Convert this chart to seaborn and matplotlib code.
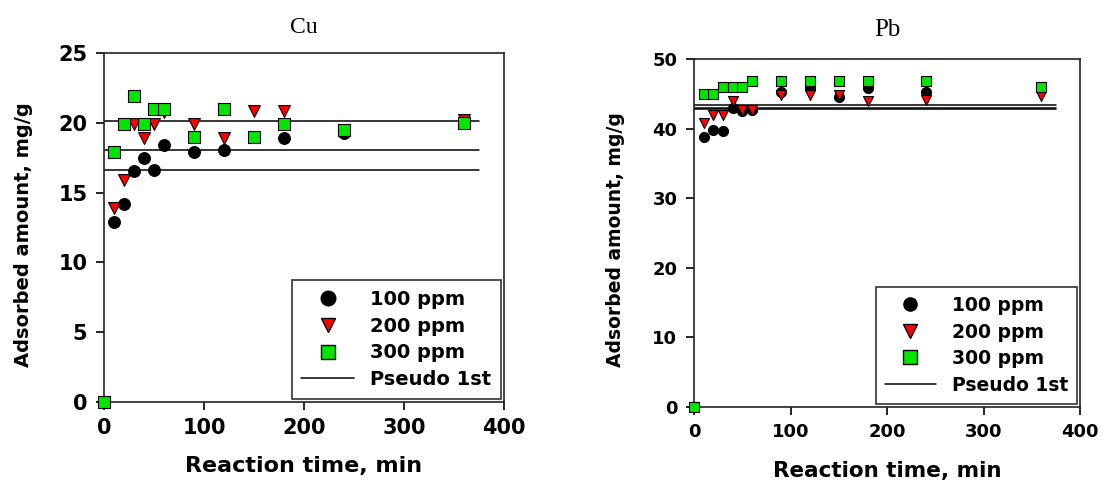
import numpy as np
import matplotlib
matplotlib.use("Agg")
import matplotlib.pyplot as plt
from matplotlib.lines import Line2D
import seaborn as sns

# reaction time (min)
time_min = [0, 10, 20, 30, 40, 50, 60, 90, 120, 150, 180, 240, 360]

# Cu adsorbed amount, mg/g
cu_100 = [0, 12.9, 14.2, 16.55, 17.5, 16.65, 18.4, 17.9, 18.05, 19.0, 18.9, 19.3, 20.1]
cu_200 = [0, 13.9, 15.9, 19.9, 18.9, 19.9, 20.8, 19.9, 18.9, 20.9, 20.9, 19.5, 20.2]
cu_300 = [0, 17.9, 19.95, 21.95, 19.95, 21.0, 21.0, 19.0, 21.0, 19.0, 19.95, 19.5, 20.0]
cu_fit_qe = [16.6, 18.1, 20.15]

# Pb adsorbed amount, mg/g
pb_100 = [0, 38.8, 39.8, 39.6, 43.0, 42.5, 42.6, 45.2, 45.8, 44.5, 45.8, 45.3, 45.8]
pb_200 = [0, 40.8, 41.9, 41.9, 44.0, 42.7, 42.7, 44.8, 44.8, 44.8, 44.0, 44.1, 44.7]
pb_300 = [0, 44.9, 45.0, 46.0, 46.0, 46.0, 46.8, 46.8, 46.8, 46.8, 46.8, 46.9, 46.0]
pb_fit_qe = [42.8, 43.0, 43.4]

fit_time = [0, 375]
labels = ["100 ppm", "200 ppm", "300 ppm"]

sns.set_style("ticks")
plt.rcParams['font.family'] = ['DejaVu Sans']
plt.rcParams['font.weight'] = 'bold'
for key in ['text.color', 'axes.labelcolor', 'xtick.color', 'ytick.color']:
    plt.rcParams[key] = 'black'

fig = plt.figure(figsize=(11.03, 4.86), dpi=100)
ax_cu = fig.add_axes([0.0943, 0.1735, 0.3627, 0.7165])
ax_pb = fig.add_axes([0.6292, 0.1632, 0.3500, 0.7154])

styles = [("o", "black"), ("v", "red"), ("s", "#00e600")]


def draw_panel(ax, series, fit_qe, ymax, ystep, title, msize, tsize, xlsize, ylsize,
               title_size, title_pad, leg_msize, leg_font):
    for vals, (mk, col) in zip(series, styles):
        sns.scatterplot(x=time_min, y=vals, ax=ax, marker=mk, color=col,
                        edgecolor="black", linewidth=0.8, s=msize, zorder=3, clip_on=False)
    for qe in fit_qe:
        sns.lineplot(x=fit_time, y=[qe, qe], ax=ax, color="black", linewidth=1.1, zorder=2)
    ax.set_xlim(0, 400)
    ax.set_ylim(0, ymax)
    ax.set_xticks(np.arange(0, 401, 100))
    ax.set_yticks(np.arange(0, ymax + 0.1, ystep))
    for sp in ax.spines.values():
        sp.set_visible(True)
        sp.set_linewidth(1.2)
        sp.set_color("#222222")
    ax.tick_params(direction="out", length=6, width=1.2, labelsize=tsize, pad=6)
    for t in ax.get_xticklabels() + ax.get_yticklabels():
        t.set_fontweight("bold")
    ax.set_xlabel("Reaction time, min", fontsize=xlsize, fontweight="bold")
    ax.set_ylabel("Adsorbed amount, mg/g", fontsize=ylsize, fontweight="bold")
    ax.xaxis.set_label_coords(0.5, -0.155)
    ax.yaxis.set_label_coords(-0.178, 0.48)
    ax.set_title(title, family="Liberation Serif", fontweight="normal",
                 fontsize=title_size, pad=title_pad)

    handles = [Line2D([], [], marker=mk, color=col, markeredgecolor="black", linestyle="none",
                      markersize=leg_msize) for mk, col in styles]
    handles.append(Line2D([], [], color="black", linewidth=1.1))
    leg = ax.legend(handles, labels + ["Pseudo 1st"], loc="lower right",
                    bbox_to_anchor=(0.993, 0.008), frameon=True, fancybox=False,
                    edgecolor="black", fontsize=leg_font, handlelength=2.7,
                    handletextpad=0.85, labelspacing=0.4, borderpad=0.5, borderaxespad=0)
    leg.get_frame().set_linewidth(1.2)
    for t in leg.get_texts():
        t.set_fontweight("bold")


draw_panel(ax_cu, [cu_100, cu_200, cu_300], cu_fit_qe, 25, 5, "Cu",
           72, 15, 16, 14, 17, 15, 10.5, 14)
draw_panel(ax_pb, [pb_100, pb_200, pb_300], pb_fit_qe, 50, 10, "Pb",
           52, 13, 15.5, 13.5, 18, 16.5, 9.5, 13.5)

fig.savefig("out.png", dpi=100)
